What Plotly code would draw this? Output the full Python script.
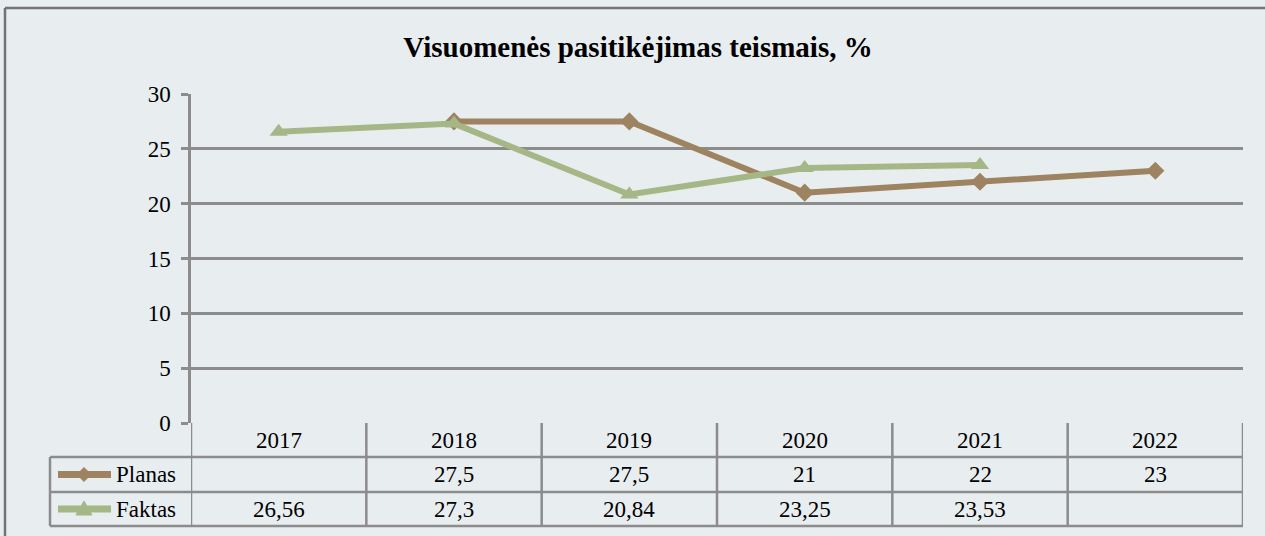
import plotly.graph_objects as go

# ---- data ----
years = ["2017", "2018", "2019", "2020", "2021", "2022"]
planas = [None, 27.5, 27.5, 21, 22, 23]
faktas = [26.56, 27.3, 20.84, 23.25, 23.53, None]
series_names = ["Planas", "Faktas"]
y_ticks = [0, 5, 10, 15, 20, 25, 30]
title_text = "Visuomenės pasitikėjimas teismais, %"

# ---- style ----
BG = "#E8EDF0"
GRID = "#8C8C8C"
BORDER = "#737373"
C_PLAN = "#9E8360"
C_FAKT = "#A6B787"
FONT = "'Liberation Serif', 'Times New Roman', Tinos, 'DejaVu Serif', serif"

W, H = 1265, 536
L, R, T, B = 191, 22, 94, 113
pw = W - L - R
ph = H - T - B


def px_x(p):
    return (p - L) / pw


def px_y(p):
    return (H - B - p) / ph


def fmt(v):
    if v is None:
        return ""
    return f"{v:g}".replace(".", ",")


fig = go.Figure()
fig.add_trace(go.Scatter(
    x=years, y=planas, name=series_names[0], mode="lines+markers",
    line=dict(color=C_PLAN, width=6),
    marker=dict(symbol="diamond", size=14, color=C_PLAN),
    connectgaps=False, showlegend=False))
fig.add_trace(go.Scatter(
    x=years, y=faktas, name=series_names[1], mode="lines+markers",
    line=dict(color=C_FAKT, width=6),
    marker=dict(symbol="triangle-up", size=16, color=C_FAKT),
    connectgaps=False, showlegend=False))

shapes = []
annotations = []
lw = 2.5

# table row boundaries (pixels)
row_top, row_plan, row_fakt, row_bot = 423, 457, 492, 526
table_left = 50

# horizontal lines of the table
for yp in (row_plan, row_fakt, row_bot):
    shapes.append(dict(type="line", xref="paper", yref="paper",
                       x0=px_x(table_left), x1=1, y0=px_y(yp), y1=px_y(yp),
                       line=dict(color=GRID, width=lw)))
# vertical lines at category boundaries
n = len(years)
for i in range(n + 1):
    shapes.append(dict(type="line", xref="x", yref="paper",
                       x0=i - 0.5, x1=i - 0.5,
                       y0=px_y(row_top), y1=px_y(row_bot),
                       line=dict(color=GRID, width=lw)))
# left edge of legend column
shapes.append(dict(type="line", xref="paper", yref="paper",
                   x0=px_x(table_left), x1=px_x(table_left),
                   y0=px_y(row_plan), y1=px_y(row_bot),
                   line=dict(color=GRID, width=lw)))

# header years and values
hdr_c = (row_top + row_plan) / 2
plan_c = (row_plan + row_fakt) / 2
fakt_c = (row_fakt + row_bot) / 2
tfont = dict(family=FONT, size=23, color="black")
for i, yr in enumerate(years):
    annotations.append(dict(x=i, y=px_y(hdr_c), xref="x", yref="paper",
                            text=yr, showarrow=False, font=tfont,
                            xanchor="center", yanchor="middle"))
    annotations.append(dict(x=i, y=px_y(plan_c), xref="x", yref="paper",
                            text=fmt(planas[i]), showarrow=False, font=tfont,
                            xanchor="center", yanchor="middle"))
    annotations.append(dict(x=i, y=px_y(fakt_c), xref="x", yref="paper",
                            text=fmt(faktas[i]), showarrow=False, font=tfont,
                            xanchor="center", yanchor="middle"))

# legend keys inside table
for name, color, yc, sym in ((series_names[0], C_PLAN, plan_c, "diamond"),
                             (series_names[1], C_FAKT, fakt_c, "triangle")):
    shapes.append(dict(type="line", xref="paper", yref="paper",
                       x0=px_x(58), x1=px_x(111), y0=px_y(yc), y1=px_y(yc),
                       line=dict(color=color, width=7)))
    cx = 84
    if sym == "diamond":
        pts = [(cx - 7, yc), (cx, yc - 7), (cx + 7, yc), (cx, yc + 7)]
    else:
        pts = [(cx - 8, yc + 6), (cx, yc - 8), (cx + 8, yc + 6)]
    path = "M " + " L ".join(f"{px_x(a):.5f},{px_y(b):.5f}" for a, b in pts) + " Z"
    shapes.append(dict(type="path", xref="paper", yref="paper", path=path,
                       fillcolor=color, line=dict(color=color, width=1)))
    annotations.append(dict(x=px_x(114), y=px_y(yc), xref="paper", yref="paper",
                            text=name, showarrow=False, font=tfont,
                            xanchor="left", yanchor="middle"))

# outer chart border (top & left visible)
shapes.append(dict(type="line", xref="paper", yref="paper",
                   x0=px_x(5), x1=px_x(W + 10), y0=px_y(8), y1=px_y(8),
                   line=dict(color=BORDER, width=2.5)))
shapes.append(dict(type="line", xref="paper", yref="paper",
                   x0=px_x(5), x1=px_x(5), y0=px_y(8), y1=px_y(H + 10),
                   line=dict(color=BORDER, width=2.5)))

fig.update_layout(
    width=W, height=H,
    margin=dict(l=L, r=R, t=T, b=B, pad=0),
    paper_bgcolor=BG, plot_bgcolor=BG,
    font=dict(family=FONT, size=23, color="black"),
    separators=", ",
    title=dict(text="<b>" + title_text + "</b>", xref="container", yref="container",
               x=638 / W, y=1 - 47 / H, xanchor="center", yanchor="middle",
               font=dict(family=FONT, size=29, color="black")),
    xaxis=dict(type="category", range=[-0.5, n - 0.5], showticklabels=False,
               showgrid=False, zeroline=False, showline=False, ticks=""),
    yaxis=dict(range=[0, 30], tickvals=y_ticks, showgrid=True, gridcolor=GRID,
               gridwidth=lw, zeroline=False, showline=True, linecolor=GRID,
               linewidth=lw, ticks="outside", ticklen=7, tickcolor=GRID,
               tickwidth=lw, ticklabelstandoff=6,
               tickfont=dict(family=FONT, size=23, color="black")),
    shapes=shapes, annotations=annotations,
)

fig.write_html("out.html", config={"displayModeBar": False},
               post_script="document.body.style.margin='0';"
                           "document.body.style.background='" + BG + "';")
